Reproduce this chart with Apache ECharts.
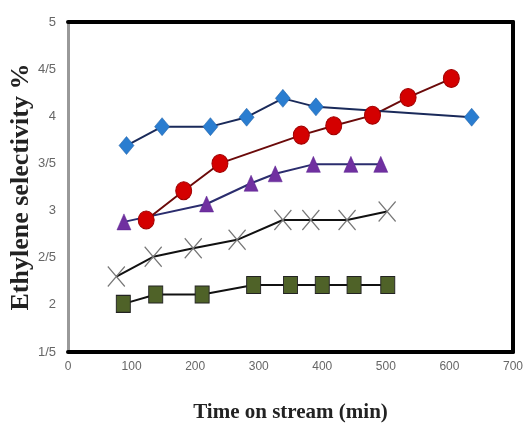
<!DOCTYPE html>
<html>
<head>
<meta charset="utf-8">
<script src="https://cdn.jsdelivr.net/npm/echarts@6/dist/echarts.min.js"></script>
<style>html,body{margin:0;padding:0;background:#fff}#c{width:527px;height:423px}</style>
</head>
<body>
<div id="c"></div>
<script>
// Data: [time (min), ethylene selectivity %]
var blueDiamond = [[92,3.69],[148,3.89],[224,3.89],[281,3.99],[338,4.19],[390,4.10],[635,3.99]];
var redCircle = [[123,2.90],[182,3.21],[239,3.50],[367,3.80],[418,3.90],[479,4.01],[535,4.20],[603,4.40]];
var purpleTriangle = [[88,2.88],[218,3.07],[288,3.29],[326,3.39],[386,3.49],[445,3.49],[492,3.49]];
var greyCross = [[76,2.30],[134,2.51],[197,2.60],[266,2.69],[338,2.90],[382,2.90],[439,2.90],[502,2.99]];
var greenSquare = [[87,2.01],[138,2.11],[211,2.11],[292,2.21],[350,2.21],[400,2.21],[450,2.21],[503,2.21]];

var yTickValues = [1.5, 2, 2.5, 3, 3.5, 4, 4.5, 5];
var yTickLabels = ['1/5', '2', '2/5', '3', '3/5', '4', '4/5', '5'];
var xTicks = [0, 100, 200, 300, 400, 500, 600, 700];

var chart = echarts.init(document.getElementById('c'), null, {renderer: 'canvas'});
var labelFont = 'Liberation Sans Narrow, Liberation Sans, sans-serif';
var titleFont = 'Liberation Serif, Times New Roman, serif';

function fmtY(v) {
  for (var i = 0; i < yTickValues.length; i++) {
    if (Math.abs(yTickValues[i] - v) < 1e-6) return yTickLabels[i];
  }
  return '';
}

chart.setOption({
  animation: false,
  backgroundColor: '#fff',
  grid: {left: 68, right: 14, top: 22, bottom: 71, containLabel: false, outerBoundsMode: 'none'},
  xAxis: [{
    type: 'value', min: xTicks[0], max: xTicks[xTicks.length - 1], interval: 100,
    position: 'bottom',
    name: 'Time on stream (min)', nameLocation: 'middle', nameGap: 50, nameMoveOverlap: false,
    nameTextStyle: {fontFamily: titleFont, fontWeight: 'bold', fontSize: 21, color: '#222'},
    axisLine: {show: true, lineStyle: {color: '#000', width: 4}},
    axisTick: {show: false},
    splitLine: {show: false},
    axisLabel: {margin: 9, fontFamily: labelFont, fontSize: 12, color: '#666'}
  }, {
    type: 'value', min: 0, max: 700, position: 'top',
    axisLine: {show: true, onZero: false, lineStyle: {color: '#000', width: 4}},
    axisTick: {show: false}, axisLabel: {show: false}, splitLine: {show: false}
  }],
  yAxis: [{
    type: 'value', min: yTickValues[0], max: yTickValues[yTickValues.length - 1], interval: 0.5,
    position: 'left',
    name: 'Ethylene selectivity %', nameLocation: 'middle', nameGap: 34, nameMoveOverlap: false,
    nameTextStyle: {fontFamily: titleFont, fontWeight: 'bold', fontSize: 26, color: '#222'},
    axisLine: {show: true, onZero: false, lineStyle: {color: '#999', width: 3}},
    axisTick: {show: false},
    splitLine: {show: false},
    axisLabel: {margin: 12, fontFamily: labelFont, fontSize: 13, color: '#666', formatter: fmtY}
  }, {
    type: 'value', min: 1.5, max: 5, position: 'right',
    axisLine: {show: true, onZero: false, lineStyle: {color: '#000', width: 4}},
    axisTick: {show: false}, axisLabel: {show: false}, splitLine: {show: false}
  }],
  series: [{
    type: 'line', data: greenSquare, symbol: 'rect', symbolSize: [14, 17],
    lineStyle: {color: '#111', width: 2},
    itemStyle: {color: '#4f6228', borderColor: '#222', borderWidth: 1}
  }, {
    type: 'line', data: greyCross,
    symbol: 'path://M0,0L10,10M10,0L0,10', symbolSize: [17, 20],
    lineStyle: {color: '#111', width: 2},
    itemStyle: {color: 'none', borderColor: '#777', borderWidth: 1.3}
  }, {
    type: 'line', data: purpleTriangle, symbol: 'triangle', symbolSize: [14, 16],
    lineStyle: {color: '#2b2d6e', width: 2},
    itemStyle: {color: '#7030a0', borderColor: '#5a2090', borderWidth: 0.5}
  }, {
    type: 'line', data: redCircle, symbol: 'circle', symbolSize: [16, 18],
    lineStyle: {color: '#6b0a0a', width: 2},
    itemStyle: {color: '#d40000', borderColor: '#a00000', borderWidth: 1}
  }, {
    type: 'line', data: blueDiamond, symbol: 'diamond', symbolSize: [15, 18],
    lineStyle: {color: '#1a2a5a', width: 2},
    itemStyle: {color: '#2a7dd0', borderColor: '#1a5aa0', borderWidth: 0.5}
  }]
});
</script>
</body>
</html>
